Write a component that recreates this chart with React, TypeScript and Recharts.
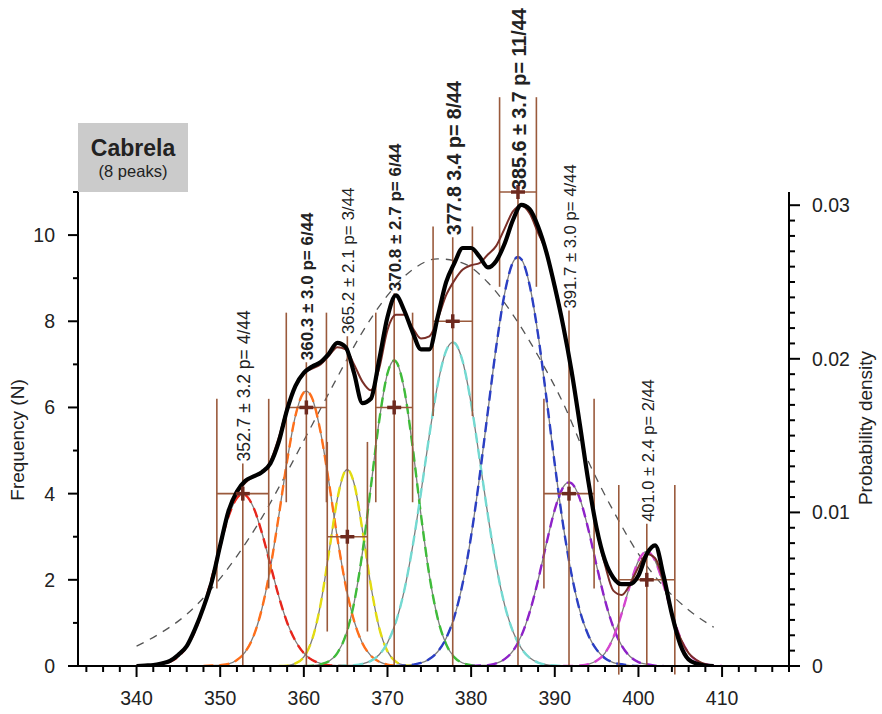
import React from 'react'
import {
  ComposedChart,
  Line,
  XAxis,
  YAxis,
  ReferenceLine,
  ReferenceDot,
} from 'recharts'

// thick black line: kernel density of the ages (left scale)
const kdeCurve: [number, number][] = [
  [340, 0], [341, 0.01], [342, 0.02], [343, 0.06], [344, 0.12], [345, 0.26], [346, 0.46],
  [347, 0.86], [348, 1.36], [349, 1.96], [350, 2.8], [351, 3.6], [352, 4.05], [353, 4.3],
  [354, 4.4], [355, 4.5], [356, 4.7], [357, 5.2], [358, 5.95], [359, 6.5], [360, 6.8],
  [361, 6.95], [362, 7.05], [363, 7.25], [364, 7.5], [365, 7.4], [366, 6.8], [367, 6.1],
  [368, 6.2], [369, 7.1], [370, 8.1], [371, 8.6], [372, 8.25], [373, 7.75], [374, 7.35],
  [375, 7.35], [376, 8.1], [377, 8.9], [378, 9.35], [379, 9.7], [380, 9.7], [381, 9.5],
  [382, 9.25], [383, 9.4], [384, 9.8], [385, 10.35], [386, 10.7], [387, 10.6], [388, 10.2],
  [389, 9.6], [390, 8.8], [391, 7.9], [392, 6.85], [393, 5.6], [394, 4.3], [395, 3.2],
  [396, 2.45], [397, 2.05], [398, 1.9], [399, 1.9], [400, 2.1], [401, 2.6], [402, 2.8],
  [403, 2.1], [404, 1.2], [405, 0.5], [406, 0.15], [407, 0.05], [408, 0.01], [409, 0],
]

// thin brown line: sum of the fitted peaks
const sumCurve: [number, number][] = [
  [340, 0], [342, 0.02], [344, 0.12], [345, 0.26], [346, 0.46], [347, 0.86], [348, 1.36],
  [349, 1.96], [350, 2.75], [351, 3.55], [352, 4.0], [353, 4.25], [354, 4.4], [355, 4.5],
  [356, 4.75], [357, 5.3], [358, 6.0], [359, 6.5], [360, 6.8], [361, 6.9], [362, 7.0],
  [363, 7.2], [364, 7.4], [365, 7.35], [366, 7.0], [367, 6.6], [368, 6.4], [369, 6.9],
  [370, 7.8], [371, 8.15], [372, 8.15], [373, 7.85], [374, 7.6], [375, 7.65], [376, 8.05],
  [377, 8.6], [378, 8.95], [379, 9.2], [380, 9.3], [381, 9.35], [382, 9.55], [383, 9.75],
  [384, 10.15], [385, 10.55], [386, 10.68], [387, 10.5], [388, 10.05], [389, 9.6],
  [390, 8.85], [391, 7.95], [392, 6.85], [393, 5.6], [394, 4.3], [395, 3.15], [396, 2.35],
  [397, 1.75], [398, 1.65], [399, 1.9], [400, 2.3], [401, 2.6], [402, 2.5], [403, 1.95],
  [404, 1.2], [405, 0.65], [406, 0.3], [407, 0.13], [408, 0.04], [409, 0],
]

// grey dashed single wide peak
const widePeak: [number, number][] = [
  [340, 0.46], [343, 0.78], [346, 1.2], [349, 1.8], [352, 2.55], [355, 3.45], [358, 4.5],
  [361, 5.6], [364, 6.7], [367, 7.75], [370, 8.6], [373, 9.2], [376, 9.45], [379, 9.35],
  [382, 8.9], [385, 8.15], [388, 7.2], [391, 6.1], [394, 4.75], [397, 3.6], [400, 2.6],
  [403, 1.85], [406, 1.3], [409, 0.9],
]

// individual fitted peaks
const peak1: [number, number][] = [
  [340, 0], [341, 0.01], [342, 0.02], [343, 0.04], [344, 0.1], [345, 0.22], [346, 0.45],
  [347, 0.82], [348, 1.36], [349, 2.05], [350, 2.8], [351, 3.47], [352, 3.9], [352.7, 3.99],
  [353, 3.97], [354, 3.67], [355, 3.08], [356, 2.35], [357, 1.62], [358, 1.01], [359, 0.58],
  [360, 0.3], [361, 0.14], [362, 0.06], [363, 0.02], [364, 0.01], [365, 0],
]
const peak2: [number, number][] = [
  [348, 0], [349, 0.01], [350, 0.02], [351, 0.05], [352, 0.14], [353, 0.33], [354, 0.7],
  [355, 1.34], [356, 2.28], [357, 3.48], [358, 4.76], [359, 5.81], [360, 6.35], [360.3, 6.38],
  [361, 6.21], [362, 5.43], [363, 4.26], [364, 2.98], [365, 1.87], [366, 1.05], [367, 0.53],
  [368, 0.24], [369, 0.1], [370, 0.03], [371, 0.01], [372, 0],
]
const peak3: [number, number][] = [
  [357, 0], [358, 0.01], [359, 0.06], [360, 0.21], [361, 0.62], [362, 1.43], [363, 2.63],
  [364, 3.87], [365, 4.54], [365.2, 4.56], [366, 4.24], [367, 3.16], [368, 1.88], [369, 0.89],
  [370, 0.34], [371, 0.1], [372, 0.02], [373, 0],
]
const peak4: [number, number][] = [
  [360, 0], [361, 0.01], [362, 0.04], [363, 0.11], [364, 0.3], [365, 0.71], [366, 1.46],
  [367, 2.63], [368, 4.14], [369, 5.68], [370, 6.79], [370.8, 7.09], [371, 7.07], [372, 6.42],
  [373, 5.09], [374, 3.51], [375, 2.11], [376, 1.11], [377, 0.51], [378, 0.2], [379, 0.07],
  [380, 0.02], [381, 0],
]
const peak5: [number, number][] = [
  [364, 0], [365, 0.01], [366, 0.02], [367, 0.05], [368, 0.12], [369, 0.26], [370, 0.54],
  [371, 1.02], [372, 1.75], [373, 2.77], [374, 4.02], [375, 5.35], [376, 6.53], [377, 7.31],
  [377.8, 7.51], [378, 7.5], [379, 7.06], [380, 6.09], [381, 4.82], [382, 3.5], [383, 2.33],
  [384, 1.42], [385, 0.8], [386, 0.41], [387, 0.19], [388, 0.08], [389, 0.03], [390, 0.01],
  [391, 0],
]
const peak6: [number, number][] = [
  [371, 0], [372, 0.01], [373, 0.03], [374, 0.07], [375, 0.16], [376, 0.33], [377, 0.64],
  [378, 1.15], [379, 1.93], [380, 3.02], [381, 4.38], [382, 5.91], [383, 7.41], [384, 8.64],
  [385, 9.37], [385.6, 9.49], [386, 9.44], [387, 8.83], [388, 7.69], [389, 6.22], [390, 4.68],
  [391, 3.27], [392, 2.13], [393, 1.28], [394, 0.72], [395, 0.38], [396, 0.18], [397, 0.08],
  [398, 0.04], [399, 0.01], [400, 0],
]
const peak7: [number, number][] = [
  [380, 0], [381, 0.01], [382, 0.02], [383, 0.06], [384, 0.16], [385, 0.35], [386, 0.7],
  [387, 1.25], [388, 1.99], [389, 2.84], [390, 3.63], [391, 4.15], [391.7, 4.26], [392, 4.24],
  [393, 3.88], [394, 3.18], [395, 2.33], [396, 1.53], [397, 0.9], [398, 0.47], [399, 0.22],
  [400, 0.09], [401, 0.04], [402, 0.01], [403, 0],
]
const peak8: [number, number][] = [
  [391, 0], [392, 0], [393, 0.01], [394, 0.04], [395, 0.12], [396, 0.3], [397, 0.66],
  [398, 1.22], [399, 1.88], [400, 2.44], [401, 2.66], [402, 2.44], [403, 1.88], [404, 1.22],
  [405, 0.66], [406, 0.3], [407, 0.12], [408, 0.04], [409, 0.01], [410, 0],
]

const peakCurves = [peak1, peak2, peak3, peak4, peak5, peak6, peak7, peak8]
const peakColors = ['#e8261c', '#ff6f1a', '#e3dc10', '#3fbc3a', '#74dad2', '#2b3fc4', '#8e22c9', '#d545d0']

const peakMeans = [352.7, 360.3, 365.2, 370.8, 377.8, 385.6, 391.7, 401.0]
const peakCounts = [4, 6, 3, 6, 8, 11, 4, 2]
const capHalfWidths = [3.1, 2.4, 2.4, 2.2, 2.35, 2.2, 3.0, 3.35]
const capHalfHeight = 2.2
const labelStarts = [4.7, 7.05, 7.65, 8.65, 9.95, 11.0, 8.25, 3.3]
const peakLabels = [
  '352.7 ± 3.2 p= 4/44',
  '360.3 ± 3.0 p= 6/44',
  '365.2 ± 2.1 p= 3/44',
  '370.8 ± 2.7 p= 6/44',
  '377.8 3.4 p= 8/44',
  '385.6 ± 3.7 p= 11/44',
  '391.7 ± 3.0 p= 4/44',
  '401.0 ± 2.4 p= 2/44',
]
const labelBold = [false, true, false, true, true, true, false, false]
const labelSizes = [17.5, 17, 17, 17, 19.6, 19.8, 16.7, 16.5]

const xTicks = Array.from({ length: 43 }, (_, i) => 334 + i * 2)
const leftTicks = Array.from({ length: 12 }, (_, i) => i)
const rightTicks = Array.from({ length: 31 }, (_, i) => i / 1000)

const FONT = '"Liberation Sans", Arial, Helvetica, sans-serif'
const INK = '#222'
const BAR = '#9a5a3c'
const toRows = (pts: [number, number][]) => pts.map(([x, y]) => ({ x, y }))

function XTick({ x, y, payload }: any) {
  const v = payload.value
  const major = v % 10 === 0 && v >= 340 && v <= 410
  return (
    <g>
      <line x1={x} y1={y} x2={x} y2={y + (major ? 11 : 6)} stroke="#000" strokeWidth={2} />
      {major && (
        <text x={x} y={y + 32} textAnchor="middle" dominantBaseline="central" fontSize={19.5} fill={INK} fontFamily={FONT}>
          {v}
        </text>
      )}
    </g>
  )
}

function LeftTick({ x, y, payload }: any) {
  const v = payload.value
  const major = v % 2 === 0 && v <= 10
  return (
    <g>
      <line x1={x} y1={y} x2={x - (major ? 10 : 5)} y2={y} stroke="#000" strokeWidth={2} />
      {major && (
        <text x={x - 23} y={y} textAnchor="end" dominantBaseline="central" fontSize={19.5} fill={INK} fontFamily={FONT}>
          {v}
        </text>
      )}
    </g>
  )
}

function RightTick({ x, y, payload }: any) {
  const k = Math.round(payload.value * 1000)
  const major = k % 10 === 0
  return (
    <g>
      <line x1={x} y1={y} x2={x + (major ? 11 : 6)} y2={y} stroke="#000" strokeWidth={2} />
      {major && (
        <text x={x + 23} y={y} textAnchor="start" dominantBaseline="central" fontSize={19.5} fill={INK} fontFamily={FONT}>
          {k === 0 ? '0' : (k / 1000).toFixed(2)}
        </text>
      )}
    </g>
  )
}

const Cross = ({ cx, cy }: any) => (
  <g stroke="#6e2a1f" strokeWidth={3.5}>
    <line x1={cx - 7} y1={cy} x2={cx + 7} y2={cy} />
    <line x1={cx} y1={cy - 7} x2={cx} y2={cy + 7} />
  </g>
)

export default function App() {
  return (
    <div style={{ position: 'absolute', left: 0, top: 0, width: 882, height: 714, fontFamily: FONT }}>
      <ComposedChart width={882} height={714} data={toRows(kdeCurve)} margin={{ top: 192, right: 43, bottom: 18, left: 28 }}>
        <XAxis
          type="number"
          dataKey="x"
          domain={[333, 418]}
          ticks={xTicks}
          interval={0}
          allowDataOverflow
          height={30}
          tickSize={0}
          tickMargin={0}
          tickLine={false}
          tick={<XTick />}
          axisLine={{ stroke: '#000', strokeWidth: 2 }}
        />
        <YAxis
          yAxisId="left"
          type="number"
          domain={[0, 11]}
          ticks={leftTicks}
          interval={0}
          allowDataOverflow
          width={50}
          tickSize={0}
          tickMargin={0}
          tickLine={false}
          tick={<LeftTick />}
          axisLine={{ stroke: '#000', strokeWidth: 2 }}
        />
        <YAxis
          yAxisId="right"
          orientation="right"
          type="number"
          domain={[0, 0.03086]}
          ticks={rightTicks}
          interval={0}
          allowDataOverflow
          width={50}
          tickSize={0}
          tickMargin={0}
          tickLine={false}
          tick={<RightTick />}
          axisLine={{ stroke: '#000', strokeWidth: 2 }}
        />

        <Line yAxisId="left" data={toRows(widePeak)} dataKey="y" type="monotone" stroke="#555" strokeWidth={1.3}
          strokeDasharray="8 7" dot={false} activeDot={false} isAnimationActive={false} />

        {peakCurves.map((c, i) => (
          <Line key={`g${i}`} yAxisId="left" data={toRows(c)} dataKey="y" type="monotone" stroke="#7d7d7d"
            strokeWidth={1.3} dot={false} activeDot={false} isAnimationActive={false} />
        ))}
        {peakCurves.map((c, i) => (
          <Line key={`c${i}`} yAxisId="left" data={toRows(c)} dataKey="y" type="monotone" stroke={peakColors[i]}
            strokeWidth={2.4} strokeDasharray="10 6" dot={false} activeDot={false} isAnimationActive={false} />
        ))}

        {peakMeans.map((m, i) => (
          <ReferenceLine key={`v${i}`} yAxisId="left" ifOverflow="visible" stroke={BAR} strokeWidth={1.6}
            segment={[{ x: m, y: 0 }, { x: m, y: labelStarts[i] }]} />
        ))}
        {peakMeans.map((m, i) => (
          <ReferenceLine key={`h${i}`} yAxisId="left" ifOverflow="visible" stroke={BAR} strokeWidth={1.6}
            segment={[{ x: m - capHalfWidths[i], y: peakCounts[i] }, { x: m + capHalfWidths[i], y: peakCounts[i] }]} />
        ))}
        {peakMeans.map((m, i) => (
          <ReferenceLine key={`l${i}`} yAxisId="left" ifOverflow="visible" stroke={BAR} strokeWidth={1.6}
            segment={[{ x: m - capHalfWidths[i], y: peakCounts[i] - capHalfHeight }, { x: m - capHalfWidths[i], y: peakCounts[i] + capHalfHeight }]} />
        ))}
        {peakMeans.map((m, i) => (
          <ReferenceLine key={`r${i}`} yAxisId="left" ifOverflow="visible" stroke={BAR} strokeWidth={1.6}
            segment={[{ x: m + capHalfWidths[i], y: peakCounts[i] - capHalfHeight }, { x: m + capHalfWidths[i], y: peakCounts[i] + capHalfHeight }]} />
        ))}

        <Line yAxisId="left" data={toRows(sumCurve)} dataKey="y" type="monotone" stroke="#7a2f27" strokeWidth={2}
          dot={false} activeDot={false} isAnimationActive={false} />
        <Line yAxisId="left" dataKey="y" type="monotone" stroke="#000" strokeWidth={4.2}
          dot={false} activeDot={false} isAnimationActive={false} />

        {peakMeans.map((m, i) => (
          <ReferenceDot key={`x${i}`} yAxisId="left" x={m} y={peakCounts[i]} r={0} ifOverflow="visible" shape={<Cross />} />
        ))}
        {peakMeans.map((m, i) => (
          <ReferenceDot key={`t${i}`} yAxisId="left" x={m} y={labelStarts[i]} r={0} ifOverflow="visible"
            shape={(p: any) => (
              <text x={p.cx + 1} y={p.cy - 2} transform={`rotate(-90 ${p.cx + 1} ${p.cy - 2})`} textAnchor="start"
                dominantBaseline="central" fontSize={labelSizes[i]} fontWeight={labelBold[i] ? 'bold' : 'normal'}
                fill={INK} fontFamily={FONT}>
                {peakLabels[i]}
              </text>
            )} />
        ))}
      </ComposedChart>

      <div style={{ position: 'absolute', left: 78, top: 123, width: 110, height: 69, background: '#cbcbcb',
        textAlign: 'center', color: INK }}>
        <div style={{ fontWeight: 'bold', fontSize: 23, marginTop: 12, lineHeight: '27px' }}>Cabrela</div>
        <div style={{ fontSize: 16.5, lineHeight: '19px' }}>(8 peaks)</div>
      </div>

      <div style={{ position: 'absolute', left: 18, top: 440, transform: 'translate(-50%, -50%) rotate(-90deg)',
        fontSize: 19, whiteSpace: 'nowrap', color: INK }}>Frequency (N)</div>
      <div style={{ position: 'absolute', left: 866, top: 428, transform: 'translate(-50%, -50%) rotate(-90deg)',
        fontSize: 19, whiteSpace: 'nowrap', color: INK }}>Probability density</div>
    </div>
  )
}
